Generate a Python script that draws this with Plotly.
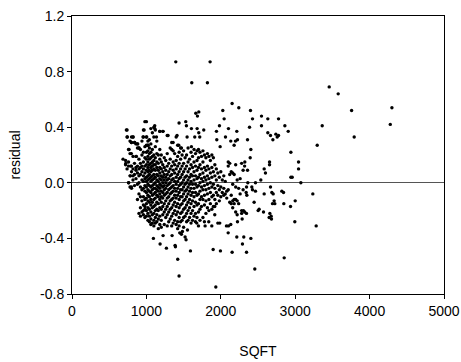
import plotly.graph_objects as go

# Sparse / outlying points
sparse_sqft = [1395, 1856, 1610, 1820, 3457, 3578, 3758, 4300, 4278, 3793, 3363, 3296, 3237, 3282,
               3076, 3045, 3045, 2942, 2942, 2960, 3000, 2995, 2937, 2847, 2852, 2861, 2906, 2820,
               2843, 2776, 2776, 2740, 2758, 2700, 2632, 2632, 2668, 2547, 2547, 2655, 2655, 2583,
               2600, 2538, 2466, 2668, 2686, 2704, 2717, 2726, 2695, 2659, 2677, 2681, 2650, 2583,
               2574, 2515, 2502, 2448, 2417, 2426, 2466, 2346, 2341, 2350, 2363, 2399, 2426, 2386,
               2359, 2404, 2395, 2359, 2323, 2242, 2152, 2027, 2045, 1982, 2103, 2215, 2224, 2179,
               2197, 2134, 2063, 1946, 1991, 1942, 1771, 1704, 1682, 1664, 1704, 1686, 1605, 1538,
               1529, 1439, 1412, 1435, 1471, 1547, 1605, 1650, 1717, 1359, 1291, 1224, 1179, 1112,
               1112, 1135, 1000, 969, 1004, 955, 1022, 731, 744, 821, 798, 843, 883, 901, 767, 798,
               865, 686, 722, 789, 762, 798, 785,
               1933, 1439, 1421, 2457, 1897, 1995, 2152, 2346, 1592, 1269, 1184, 1094, 1224, 1386,
               1390, 1345, 1448, 1471, 1520, 1533, 1484, 1552, 2215, 2309, 2404, 2291, 2099, 2103,
               2134, 2076, 1986, 1960, 1879, 1789, 1838, 1700, 1677, 2224, 2287, 2305, 2345, 1919,
               1919]
sparse_resid = [0.87, 0.87, 0.72, 0.72, 0.69, 0.64, 0.52, 0.54, 0.42, 0.33, 0.41, 0.27, -0.08, -0.31,
                0.00, 0.15, 0.10, 0.22, 0.04, 0.04, -0.13, -0.28, -0.17, -0.15, -0.54, 0.41, 0.37, -0.06,
                -0.07, 0.46, 0.34, 0.35, 0.33, 0.31, 0.46, 0.36, 0.34, 0.48, 0.41, 0.15, 0.13, 0.10,
                0.07, 0.02, 0.00, -0.03, -0.07, -0.08, -0.13, -0.15, -0.15, -0.22, -0.24, -0.26, -0.25, -0.08,
                -0.21, -0.19, -0.20, -0.14, -0.03, -0.05, -0.06, -0.03, -0.07, -0.09, -0.00, 0.52, 0.46, 0.40,
                0.31, 0.24, 0.18, 0.09, 0.15, 0.54, 0.57, 0.52, 0.46, 0.41, 0.39, 0.37, 0.31, 0.27,
                0.30, 0.30, 0.33, 0.31, 0.26, 0.37, 0.38, 0.36, 0.39, 0.50, 0.51, 0.48, 0.39, 0.41,
                0.44, 0.43, 0.34, 0.27, 0.25, 0.33, 0.26, 0.33, 0.33, 0.29, 0.34, 0.37, 0.37, 0.41,
                0.39, 0.33, 0.44, 0.38, 0.33, 0.33, 0.27, 0.38, 0.33, 0.33, 0.29, 0.29, 0.28, 0.25, 0.24, 0.21,
                0.19, 0.17, 0.14, 0.12, 0.00, -0.03, 0.05,
                -0.75, -0.67, -0.55, -0.62, -0.48, -0.49, -0.50, -0.50, -0.49, -0.47, -0.44, -0.40, -0.38, -0.45,
                -0.46, -0.38, -0.36, -0.37, -0.39, -0.41, -0.35, -0.34, -0.39, -0.39, -0.40, -0.44, -0.36, -0.31,
                -0.30, -0.31, -0.29, -0.29, -0.31, -0.31, -0.28, -0.31, -0.29, -0.28, -0.26, -0.20, -0.22, -0.23,
                -0.17]

# Dense core, read column by column (SQFT column -> residuals)
core_sqft = [720, 740, 760, 780, 800, 820, 840, 860, 880, 900, 920, 940, 960, 980, 1000, 1020, 1040,
             1060, 1080, 1100, 1120, 1140, 1160, 1180, 1200, 1220, 1240, 1260, 1280, 1300, 1320, 1340,
             1360, 1380, 1400, 1420, 1440, 1460, 1480, 1500, 1520, 1540, 1560, 1580, 1600, 1620, 1640,
             1660, 1680, 1700, 1720, 1740, 1760, 1780, 1800, 1820, 1840, 1860, 1880, 1900, 1920, 1940,
             1960, 1980, 2000, 2020, 2040, 2060, 2080, 2100, 2120, 2140, 2160, 2180, 2200, 2220, 2240,
             2260, 2280, 2300, 2320]
core_resid = [
    [0.16, 0.13],
    [0.38, 0.33, 0.10],
    [0.24, 0.00, 0.15, 0.12],
    [0.21, 0.05, -0.03, 0.30],
    [0.33, 0.29, 0.12, 0.08, -0.04],
    [0.33, 0.19, 0.05, 0.02, 0.10],
    [0.29, 0.14, 0.06, -0.02],
    [0.28, 0.19, 0.09, 0.03, 0.11],
    [0.28, 0.25, 0.12, 0.07, -0.01, -0.12],
    [0.25, 0.17, 0.10, 0.05, 0.00, -0.08, -0.22],
    [0.24, 0.14, 0.11, 0.06, -0.03, -0.10, -0.18, -0.24],
    [0.30, 0.20, 0.12, 0.08, 0.02, -0.05, -0.13, -0.21],
    [0.38, 0.33, 0.22, 0.15, 0.10, 0.05, 0.01, -0.04, -0.10, -0.16, -0.20, -0.23],
    [0.44, 0.26, 0.18, 0.12, 0.07, 0.03, -0.02, -0.06, -0.12, -0.17, -0.19, -0.25],
    [0.33, 0.27, 0.22, 0.17, 0.13, 0.09, 0.04, 0.01, -0.03, -0.07, -0.11, -0.15, -0.20, -0.24],
    [0.30, 0.27, 0.23, 0.19, 0.15, 0.11, 0.08, 0.05, 0.02, -0.01, -0.05, -0.09, -0.13, -0.18, -0.22, -0.27],
    [0.31, 0.25, 0.21, 0.17, 0.13, 0.09, 0.06, 0.03, -0.02, -0.06, -0.10, -0.14, -0.19, -0.24, -0.28],
    [0.39, 0.28, 0.22, 0.18, 0.14, 0.11, 0.08, 0.04, 0.01, -0.03, -0.07, -0.12, -0.16, -0.21, -0.26, -0.30],
    [0.36, 0.24, 0.19, 0.15, 0.12, 0.09, 0.05, 0.02, -0.02, -0.05, -0.09, -0.14, -0.18, -0.23, -0.29],
    [0.40, 0.33, 0.20, 0.16, 0.13, 0.10, 0.06, 0.03, -0.01, -0.04, -0.08, -0.12, -0.17, -0.22, -0.27, -0.31],
    [0.38, 0.26, 0.18, 0.13, 0.09, 0.04, 0.00, -0.04, -0.07, -0.11, -0.16, -0.20, -0.25, -0.29],
    [0.30, 0.21, 0.15, 0.11, 0.06, 0.02, -0.02, -0.05, -0.09, -0.14, -0.19, -0.23, -0.28],
    [0.20, 0.14, 0.09, 0.05, 0.01, -0.03, -0.06, -0.10, -0.15, -0.20, -0.26, -0.33],
    [0.37, 0.24, 0.17, 0.11, 0.07, 0.03, -0.01, -0.04, -0.08, -0.12, -0.18, -0.24, -0.30],
    [0.20, 0.15, 0.10, 0.05, 0.02, -0.02, -0.06, -0.10, -0.14, -0.19, -0.27, -0.32],
    [0.37, 0.13, 0.08, 0.04, 0.00, -0.03, -0.07, -0.11, -0.17, -0.23],
    [0.18, 0.11, 0.06, 0.02, -0.02, -0.05, -0.09, -0.15, -0.21, -0.30],
    [0.16, 0.09, 0.04, 0.00, -0.04, -0.08, -0.13, -0.19, -0.25],
    [0.34, 0.21, 0.12, 0.06, 0.02, -0.02, -0.07, -0.11, -0.17, -0.23, -0.31],
    [0.14, 0.08, 0.03, -0.01, -0.05, -0.10, -0.15, -0.21, -0.28],
    [0.25, 0.17, 0.10, 0.05, 0.00, -0.04, -0.08, -0.13, -0.19, -0.26],
    [0.29, 0.24, 0.12, 0.06, 0.02, -0.03, -0.07, -0.12, -0.18, -0.24, -0.31],
    [0.23, 0.15, 0.09, 0.03, -0.02, -0.06, -0.11, -0.16, -0.22, -0.29],
    [0.21, 0.13, 0.07, 0.01, -0.04, -0.09, -0.14, -0.20, -0.27],
    [0.33, 0.16, 0.10, 0.04, -0.01, -0.06, -0.11, -0.17, -0.23, -0.30],
    [0.27, 0.19, 0.12, 0.06, 0.01, -0.04, -0.09, -0.15, -0.21, -0.28, -0.33],
    [0.22, 0.14, 0.08, 0.03, -0.02, -0.07, -0.12, -0.18, -0.25, -0.31],
    [0.25, 0.17, 0.10, 0.04, -0.01, -0.05, -0.10, -0.16, -0.22, -0.28],
    [0.20, 0.12, 0.06, 0.00, -0.05, -0.10, -0.15, -0.21, -0.27],
    [0.23, 0.14, 0.08, 0.02, -0.03, -0.08, -0.13, -0.19, -0.25, -0.32],
    [0.18, 0.10, 0.04, -0.01, -0.06, -0.12, -0.18, -0.24],
    [0.20, 0.12, 0.05, 0.00, -0.05, -0.10, -0.16, -0.22, -0.28],
    [0.25, 0.15, 0.08, 0.02, -0.03, -0.08, -0.14, -0.20, -0.27],
    [0.17, 0.10, 0.04, -0.01, -0.06, -0.12, -0.18, -0.25],
    [0.22, 0.13, 0.06, 0.01, -0.04, -0.09, -0.15, -0.22, -0.29],
    [0.19, 0.11, 0.05, -0.01, -0.07, -0.13, -0.20, -0.27],
    [0.24, 0.15, 0.08, 0.02, -0.04, -0.10, -0.17, -0.24],
    [0.21, 0.12, 0.05, -0.01, -0.07, -0.14, -0.22, -0.28],
    [0.23, 0.16, 0.09, 0.03, -0.03, -0.09, -0.16, -0.25],
    [0.24, 0.18, 0.11, 0.04, -0.02, -0.08, -0.15, -0.21],
    [0.22, 0.13, 0.06, 0.00, -0.06, -0.12, -0.19, -0.27],
    [0.19, 0.10, 0.03, -0.03, -0.10, -0.17],
    [0.23, 0.15, 0.07, 0.01, -0.05, -0.12, -0.25],
    [0.20, 0.11, 0.04, -0.02, -0.09, -0.16, -0.28],
    [0.18, 0.09, 0.02, -0.05, -0.13, -0.22],
    [0.21, 0.12, 0.05, -0.01, -0.08, -0.18],
    [0.19, 0.10, 0.03, -0.04, -0.12, -0.20],
    [0.16, 0.07, 0.00, -0.07, -0.15],
    [0.20, 0.11, 0.04, -0.03, -0.10, -0.19],
    [0.18, 0.08, -0.01, -0.09, -0.17],
    [0.13, 0.05, -0.04, -0.12],
    [0.10, 0.02, -0.07, -0.15],
    [0.07, -0.02, -0.09],
    [0.04, -0.05, -0.13],
    [0.08, -0.03, -0.10],
    [0.02, -0.07],
    [0.05, -0.04, -0.09],
    [0.01, -0.08],
    [-0.06, -0.11],
    [0.15, 0.12, -0.05],
    [0.14, 0.06, -0.14],
    [0.08, -0.09, -0.15],
    [0.07, -0.01, -0.13, -0.18],
    [0.06, -0.12, -0.15],
    [0.13, -0.03, -0.12, -0.21],
    [0.02, -0.13, -0.23],
    [-0.04, -0.15],
    [0.03, -0.08],
    [0.14, -0.20, -0.22],
    [0.09, -0.05],
    [0.12, -0.21],
]

x_ticks = [0, 1000, 2000, 3000, 4000, 5000]
y_ticks = [-0.8, -0.4, 0.0, 0.4, 0.8, 1.2]

xs = list(sparse_sqft)
ys = list(sparse_resid)
for sq, col in zip(core_sqft, core_resid):
    for r in col:
        xs.append(sq)
        ys.append(r)

fig = go.Figure()
fig.add_trace(go.Scatter(x=xs, y=ys, mode="markers",
                         marker=dict(color="black", size=3.4, line=dict(width=0)),
                         showlegend=False, hoverinfo="skip"))

font = dict(family="Liberation Sans, Arial, sans-serif", size=14, color="black")
fig.update_layout(
    width=461, height=362,
    margin=dict(l=72, r=17, t=16, b=68),
    paper_bgcolor="white", plot_bgcolor="white",
    font=font,
    showlegend=False,
)
fig.update_xaxes(range=[0, 5000], tickvals=x_ticks, ticktext=[str(v) for v in x_ticks],
                 showgrid=False, zeroline=False, showline=True, linecolor="black", linewidth=1,
                 mirror=True, ticks="outside", ticklen=4, tickcolor="black", automargin=False,
                 title=dict(text="SQFT", standoff=28, font=font), tickfont=font)
fig.update_yaxes(range=[-0.8, 1.2], tickvals=y_ticks, ticktext=[f"{v:.1f}" for v in y_ticks],
                 showgrid=False, zeroline=True, zerolinecolor="#555555", zerolinewidth=1,
                 showline=True, linecolor="black", linewidth=1,
                 mirror=True, ticks="outside", ticklen=4, tickcolor="black", automargin=False,
                 title=dict(text="residual", standoff=16, font=font), tickfont=font)

fig.write_html("out.html", config={"displayModeBar": False},
               post_script="document.body.style.margin='0';document.body.style.overflow='hidden';")
